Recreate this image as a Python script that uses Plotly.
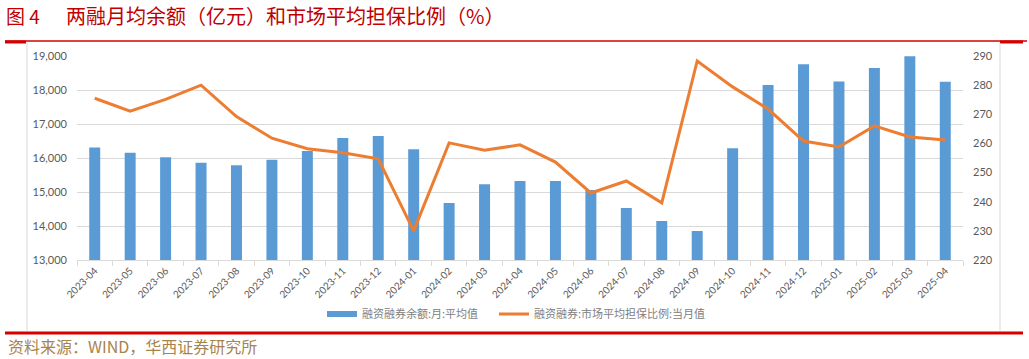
import plotly.graph_objects as go

months = ["2023-04","2023-05","2023-06","2023-07","2023-08","2023-09","2023-10","2023-11","2023-12",
          "2024-01","2024-02","2024-03","2024-04","2024-05","2024-06","2024-07","2024-08","2024-09",
          "2024-10","2024-11","2024-12","2025-01","2025-02","2025-03","2025-04"]
balance = [16310, 16155, 16020, 15860, 15785, 15950, 16205, 16590, 16650,
           16260, 14680, 15230, 15320, 15320, 15060, 14530, 14150, 13850,
           16290, 18150, 18760, 18250, 18650, 18990, 18240]
ratio = [275.5, 271.1, 275.1, 280.0, 269.2, 261.8, 258.2, 256.8, 254.7,
         230.0, 260.2, 257.7, 259.5, 253.6, 243.0, 247.1, 239.6, 288.3,
         279.4, 271.8, 260.8, 258.8, 266.0, 262.2, 261.2]

fig_label = "图 4"
title_text = "两融月均余额（亿元）和市场平均担保比例（%）"
source_text = "资料来源：WIND，华西证券研究所"
bar_name = "融资融券余额:月:平均值"
line_name = "融资融券:市场平均担保比例:当月值"

BAR_COLOR = "#5B9BD5"
LINE_COLOR = "#ED7D31"

W, H = 1029, 359
def px_x(x): return x / W
def px_y(y): return 1 - y / H

tick_font = dict(family="Lato, Liberation Sans, sans-serif", size=11, color="#595959")
legend_font = dict(family="Noto Sans CJK SC", size=11, color="#808080")

fig = go.Figure()
fig.add_trace(go.Bar(x=months, y=balance, name=bar_name, marker_color=BAR_COLOR,
                     marker_line_width=0, width=0.31, yaxis="y", showlegend=False))
# legend entry for the bars drawn as a thick line, as in the original
fig.add_trace(go.Scatter(x=[None], y=[None], name=bar_name, mode="lines",
                         line=dict(color=BAR_COLOR, width=6), yaxis="y", hoverinfo="skip",
                         legend="legend"))
fig.add_trace(go.Scatter(x=months, y=ratio, name=line_name, mode="lines",
                         line=dict(color=LINE_COLOR, width=3), yaxis="y2", legend="legend2"))

fig.update_layout(
    width=W, height=H, margin=dict(l=0, r=0, t=0, b=0),
    paper_bgcolor="white", plot_bgcolor="white",
    showlegend=True,
    legend=dict(orientation="h", x=px_x(322), xanchor="left", y=px_y(314), yanchor="middle",
                font=legend_font, itemwidth=30, bgcolor="rgba(0,0,0,0)"),
    legend2=dict(orientation="h", x=px_x(494), xanchor="left", y=px_y(314), yanchor="middle",
                 font=legend_font, itemwidth=30, bgcolor="rgba(0,0,0,0)"),
    xaxis=dict(domain=[px_x(77), px_x(963)], type="category", showgrid=False, automargin=False,
               showline=True, linecolor="#D9D9D9", linewidth=1,
               ticks="outside", tickson="boundaries", ticklen=5, tickcolor="#D9D9D9",
               tickangle=-45, tickfont=dict(family="Lato, Liberation Sans, sans-serif", size=10, color="#595959")),
    yaxis=dict(domain=[px_y(260), px_y(56)], range=[13000, 19000], dtick=1000, automargin=False,
               tickformat=",d", showgrid=True, gridcolor="#D9D9D9", gridwidth=1,
               zeroline=False, showline=False, tickfont=tick_font, ticklabelstandoff=9),
    yaxis2=dict(overlaying="y", side="right", range=[220, 290], dtick=10, automargin=False,
                showgrid=False, zeroline=False, showline=False, tickfont=tick_font,
                ticklabelstandoff=9),
    bargap=0.69,
)

shapes = [
    dict(type="line", xref="paper", yref="paper", x0=px_x(5), x1=px_x(1027), y0=px_y(41), y1=px_y(41),
         line=dict(color="#D40000", width=1.5)),
    dict(type="line", xref="paper", yref="paper", x0=px_x(5), x1=px_x(26), y0=px_y(42), y1=px_y(42),
         line=dict(color="#D40000", width=3)),
    dict(type="line", xref="paper", yref="paper", x0=px_x(1000), x1=px_x(1023), y0=px_y(42), y1=px_y(42),
         line=dict(color="#D40000", width=3)),
    dict(type="line", xref="paper", yref="paper", x0=px_x(5), x1=px_x(1023), y0=px_y(333), y1=px_y(333),
         line=dict(color="#D40000", width=3)),
    dict(type="line", xref="paper", yref="paper", x0=px_x(27), x1=px_x(27), y0=px_y(43), y1=px_y(331),
         line=dict(color="#D9D9D9", width=1)),
    dict(type="line", xref="paper", yref="paper", x0=px_x(1000), x1=px_x(1000), y0=px_y(43), y1=px_y(331),
         line=dict(color="#D9D9D9", width=1)),
]
fig.update_layout(shapes=shapes)

fig.add_annotation(text=fig_label, xref="paper", yref="paper", x=px_x(4), y=px_y(16),
                   xanchor="left", yanchor="middle", showarrow=False,
                   font=dict(family="Noto Sans CJK SC", size=19, color="#C00000"))
fig.add_annotation(text=title_text, xref="paper", yref="paper", x=px_x(64), y=px_y(16),
                   xanchor="left", yanchor="middle", showarrow=False,
                   font=dict(family="Noto Sans CJK SC", size=20, color="#C00000"))
fig.add_annotation(text=source_text, xref="paper", yref="paper", x=px_x(6), y=px_y(346),
                   xanchor="left", yanchor="middle", showarrow=False,
                   font=dict(family="Noto Sans CJK SC", size=16, color="#A8844C"))

fig.write_html("out.html")
